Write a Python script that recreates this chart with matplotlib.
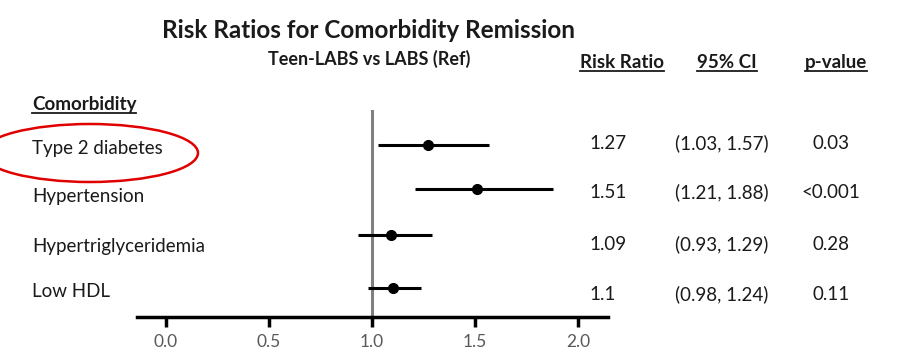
import numpy as np
import matplotlib
matplotlib.use('Agg')
import matplotlib.pyplot as plt
from matplotlib.patches import Ellipse
from matplotlib.lines import Line2D

# data
comorbidities = ['Type 2 diabetes', 'Hypertension', 'Hypertriglyceridemia', 'Low HDL']
risk_ratio = np.array([1.27, 1.51, 1.09, 1.10])
ci_low = np.array([1.03, 1.21, 0.93, 0.98])
ci_high = np.array([1.57, 1.88, 1.29, 1.24])
rr_labels = ['1.27', '1.51', '1.09', '1.1']
ci_labels = ['(1.03, 1.57)', '(1.21, 1.88)', '(0.93, 1.29)', '(0.98, 1.24)']
p_labels = ['0.03', '<0.001', '0.28', '0.11']
xticks = [0.0, 0.5, 1.0, 1.5, 2.0]

W, H = 897, 352
plt.rcParams['font.family'] = ['Lato', 'DejaVu Sans']

def fx(x):
    return x / W

def fy(y):
    return 1 - y / H

fig = plt.figure(figsize=(W / 100, H / 100), dpi=100)

# forest plot axes (y in pixel rows, inverted)
ax = fig.add_axes([fx(137), fy(317), (608 - 137) / W, (317 - 110) / H])
row_pos = [145, 189, 235, 288]
ax.set_xlim(-29 / 206, 442 / 206)
ax.set_ylim(317, 110)
ax.axvline(1.0, color='#808080', lw=2.2, zorder=1)
ax.errorbar(risk_ratio, row_pos, xerr=[risk_ratio - ci_low, ci_high - risk_ratio],
            fmt='o', color='black', ms=7, elinewidth=2.2, capsize=0, zorder=3)
for s in ['top', 'left', 'right']:
    ax.spines[s].set_visible(False)
ax.spines['bottom'].set_linewidth(2.5)
ax.set_yticks([])
ax.set_xticks(xticks)
ax.set_xticklabels(['%.1f' % t for t in xticks])
ax.tick_params(axis='x', length=7, width=2.5, pad=5.5, labelsize=12.5, labelcolor='#595959')
ax.patch.set_visible(False)

txt = dict(va='baseline', color='#1a1a1a')

# titles
fig.text(fx(368), fy(38), 'Risk Ratios for Comorbidity Remission', ha='center',
         fontsize=17.5, fontweight='bold', **txt)
fig.text(fx(369), fy(65), 'Teen-LABS vs LABS (Ref)', ha='center',
         fontsize=13, fontweight='bold', **txt)

# headers (underlined)
headers = []
headers.append(fig.text(fx(32), fy(110), 'Comorbidity', ha='left',
                        fontsize=13.5, fontweight='bold', **txt))
for hx, lab in [(622, 'Risk Ratio'), (727, '95% CI'), (836, 'p-value')]:
    headers.append(fig.text(fx(hx), fy(68), lab, ha='center',
                            fontsize=13.5, fontweight='bold', **txt))

# row labels and table (baselines)
label_y = [154, 202, 252, 297]
table_y = [149, 198, 250, 300]
for i, name in enumerate(comorbidities):
    fig.text(fx(32), fy(label_y[i]), name, ha='left', fontsize=13.5, **txt)
    fig.text(fx(589), fy(table_y[i]), rr_labels[i], ha='left', fontsize=13.5, **txt)
    fig.text(fx(722), fy(table_y[i]), ci_labels[i], ha='center', fontsize=13.5, **txt)
    fig.text(fx(831), fy(table_y[i]), p_labels[i], ha='center', fontsize=13.5, **txt)

# red highlight ellipse
fig.add_artist(Ellipse((fx(90), fy(153)), 216 / W, 58 / H, transform=fig.transFigure,
                       fill=False, ec='#e00000', lw=1.8))

fig.canvas.draw()
inv = fig.transFigure.inverted()
for t in headers:
    bb = t.get_window_extent().transformed(inv)
    y_line = t.get_position()[1] - 3 / H
    fig.add_artist(Line2D([bb.x0, bb.x1], [y_line, y_line],
                          transform=fig.transFigure, color='#1a1a1a', lw=1.3))

fig.savefig('out.png', dpi=100)
